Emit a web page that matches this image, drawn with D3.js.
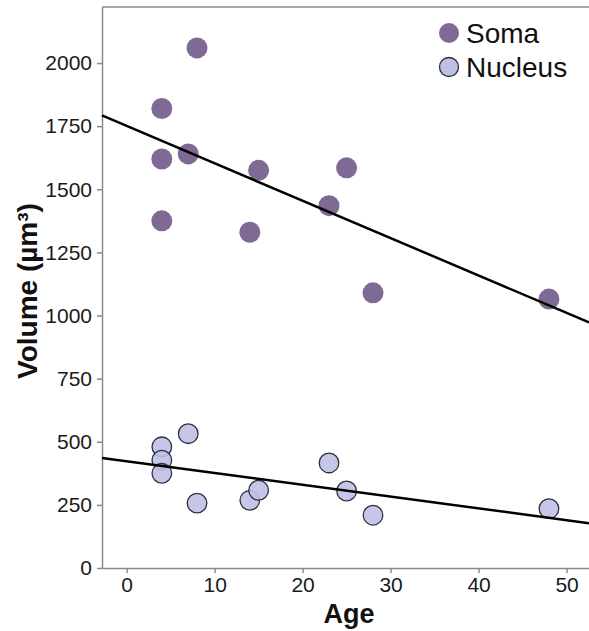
<!DOCTYPE html>
<html>
<head>
<meta charset="utf-8">
<script src="https://cdn.jsdelivr.net/npm/d3@7"></script>
<style>
  body { margin: 0; background: #fff; }
  svg { display: block; font-family: "Liberation Sans", Arial, sans-serif; }
</style>
</head>
<body>
<svg id="chart" width="589" height="631"></svg>
<script>
// values
var somaAge = [8, 4, 4, 7, 15, 25, 23, 4, 14, 28, 48];
var somaVolume = [2060, 1820, 1620, 1640, 1575, 1585, 1435, 1375, 1330, 1090, 1065];
var nucleusAge = [4, 4, 4, 7, 8, 14, 15, 23, 25, 28, 48];
var nucleusVolume = [480, 427, 375, 532, 257, 268, 308, 416, 305, 209, 235];
var xTicks = [0, 10, 20, 30, 40, 50];
var yTicks = [0, 250, 500, 750, 1000, 1250, 1500, 1750, 2000];
var seriesNames = ['Soma', 'Nucleus'];

(function () {
  'use strict';

  var svg = d3.select('#chart');
  var left = 102, right = 589, top = 7, bottom = 568;

  var x = d3.scaleLinear().domain([-2.8, 52.55]).range([left, right]);
  var y = d3.scaleLinear().domain([0, 2222]).range([bottom, top]);

  var axisColor = '#8a8a8a';

  // top frame line
  svg.append('line')
    .attr('x1', left).attr('x2', right)
    .attr('y1', top).attr('y2', top)
    .attr('stroke', axisColor).attr('stroke-width', 1.5);

  function styleAxis(g) {
    g.select('.domain').attr('stroke', axisColor).attr('stroke-width', 1.5);
    g.selectAll('.tick line').attr('stroke', axisColor).attr('stroke-width', 1.5);
    g.selectAll('.tick text').attr('fill', '#1a1a1a').style('font-size', '21px');
  }

  svg.append('g')
    .attr('transform', 'translate(0,' + bottom + ')')
    .call(d3.axisBottom(x).tickValues(xTicks).tickFormat(d3.format('d'))
      .tickSize(5).tickPadding(4).tickSizeOuter(0))
    .call(styleAxis);

  svg.append('g')
    .attr('transform', 'translate(' + left + ',0)')
    .call(d3.axisLeft(y).tickValues(yTicks).tickFormat(d3.format('d'))
      .tickSize(5).tickPadding(5).tickSizeOuter(0))
    .call(styleAxis);

  // axis titles
  svg.append('text')
    .attr('x', 349).attr('y', 623)
    .attr('text-anchor', 'middle')
    .style('font-size', '27px').style('font-weight', 'bold')
    .attr('fill', '#111')
    .text('Age');

  svg.append('text')
    .attr('transform', 'translate(37,291) rotate(-90)')
    .attr('text-anchor', 'middle')
    .style('font-size', '28px').style('font-weight', 'bold')
    .attr('fill', '#111')
    .text('Volume (µm³)');

  var series = [
    { name: seriesNames[0], age: somaAge, vol: somaVolume, fill: '#7e6a94', stroke: 'none' },
    { name: seriesNames[1], age: nucleusAge, vol: nucleusVolume, fill: '#bfc0e6', stroke: '#2e2e3e' }
  ];

  function fit(xs, ys) {
    var mx = d3.mean(xs), my = d3.mean(ys);
    var sxy = d3.sum(xs, function (v, i) { return (v - mx) * (ys[i] - my); });
    var sxx = d3.sum(xs, function (v) { return (v - mx) * (v - mx); });
    var b = sxy / sxx;
    return { slope: b, intercept: my - b * mx };
  }

  series.forEach(function (s) {
    svg.append('g').selectAll('circle')
      .data(s.age.map(function (a, i) { return { a: a, v: s.vol[i] }; }))
      .join('circle')
      .attr('cx', function (d) { return x(d.a); })
      .attr('cy', function (d) { return y(d.v); })
      .attr('r', s.stroke === 'none' ? 10.5 : 9.8)
      .attr('fill', s.fill)
      .attr('fill-opacity', s.stroke === 'none' ? 1 : 0.9)
      .attr('stroke', s.stroke)
      .attr('stroke-width', 1.3);
  });

  series.forEach(function (s) {
    var f = fit(s.age, s.vol);
    var d0 = x.domain();
    svg.append('line')
      .attr('x1', x(d0[0])).attr('y1', y(f.intercept + f.slope * d0[0]))
      .attr('x2', x(d0[1])).attr('y2', y(f.intercept + f.slope * d0[1]))
      .attr('stroke', '#000').attr('stroke-width', 2.5);
  });

  // legend
  var legend = svg.append('g').attr('transform', 'translate(449,33)');
  legend.selectAll('circle')
    .data(series)
    .join('circle')
    .attr('cx', 0)
    .attr('cy', function (d, i) { return i * 34; })
    .attr('r', function (d) { return d.stroke === 'none' ? 10 : 9.5; })
    .attr('fill', function (d) { return d.fill; })
    .attr('stroke', function (d) { return d.stroke; })
    .attr('stroke-width', 1.3);
  legend.selectAll('text')
    .data(series)
    .join('text')
    .attr('x', 17)
    .attr('y', function (d, i) { return i * 34 + 10; })
    .style('font-size', '28px')
    .attr('fill', '#111')
    .text(function (d) { return d.name; });
})();
</script>
</body>
</html>
